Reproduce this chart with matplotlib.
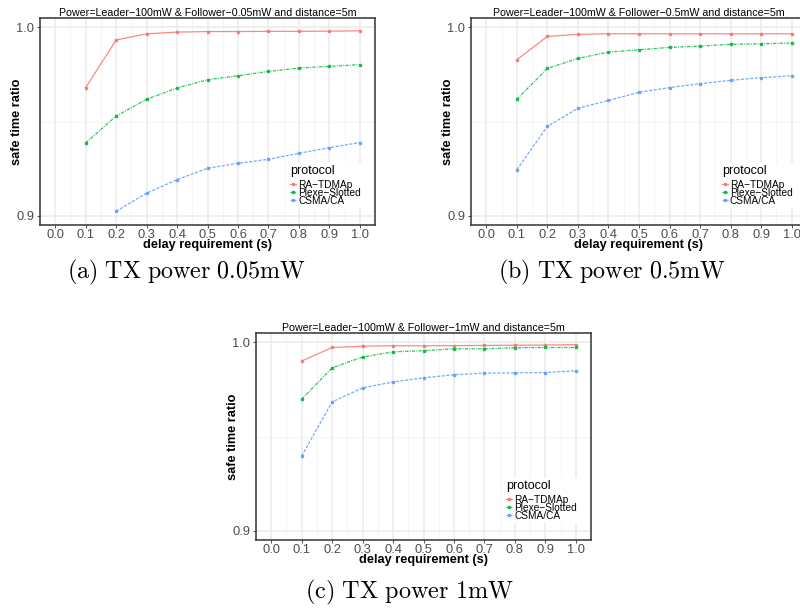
import matplotlib
matplotlib.use("Agg")
import matplotlib.pyplot as plt
import numpy as np

plt.rcParams['font.family'] = ['Liberation Sans', 'DejaVu Sans']
plt.rcParams['mathtext.fontset'] = 'cm'

delay = [0.1, 0.2, 0.3, 0.4, 0.5, 0.6, 0.7, 0.8, 0.9, 1.0]
xticks = [0.0, 0.1, 0.2, 0.3, 0.4, 0.5, 0.6, 0.7, 0.8, 0.9, 1.0]
xticklabels = ["0.0", "0.1", "0.2", "0.3", "0.4", "0.5", "0.6", "0.7", "0.8", "0.9", "1.0"]
protocols = ["RA\u2212TDMAp", "Plexe\u2212Slotted", "CSMA/CA"]

# panel (a) TX power 0.05mW
a_ra = [0.968, 0.9933, 0.9966, 0.9975, 0.9978, 0.9978, 0.9979, 0.9979, 0.9980, 0.9982]
a_plexe = [0.9386, 0.9529, 0.9618, 0.9678, 0.9722, 0.9743, 0.9766, 0.9784, 0.9793, 0.9802]
a_csma_x = [0.2, 0.3, 0.4, 0.5, 0.6, 0.7, 0.8, 0.9, 1.0]
a_csma = [0.9023, 0.9119, 0.9191, 0.9251, 0.9278, 0.9299, 0.9331, 0.9361, 0.9388]

# panel (b) TX power 0.5mW
b_ra = [0.9828, 0.9952, 0.9963, 0.9966, 0.9966, 0.9966, 0.9966, 0.9966, 0.9966, 0.9966]
b_plexe = [0.9618, 0.9782, 0.9835, 0.9869, 0.9881, 0.9894, 0.9901, 0.9910, 0.9913, 0.9917]
b_csma = [0.9244, 0.9474, 0.9570, 0.9612, 0.9655, 0.9680, 0.9701, 0.9719, 0.9733, 0.9743]

# panel (c) TX power 1mW
c_ra = [0.9901, 0.9973, 0.9980, 0.9982, 0.9982, 0.9983, 0.9984, 0.9985, 0.9986, 0.9988]
c_plexe = [0.9698, 0.9865, 0.9922, 0.9950, 0.9956, 0.9966, 0.9966, 0.9972, 0.9973, 0.9973]
c_csma = [0.9396, 0.9684, 0.9758, 0.9790, 0.9812, 0.9828, 0.9837, 0.9838, 0.9840, 0.9849]

titles = ["Power=Leader\u2212100mW & Follower\u22120.05mW and distance=5m",
          "Power=Leader\u2212100mW & Follower\u22120.5mW and distance=5m",
          "Power=Leader\u2212100mW & Follower\u22121mW and distance=5m"]
captions = [r"$\mathrm{(a)\ TX\ power\ 0.05mW}$",
            r"$\mathrm{(b)\ TX\ power\ 0.5mW}$",
            r"$\mathrm{(c)\ TX\ power\ 1mW}$"]

colors = ["#F8766D", "#00BA38", "#619CFF"]
styles = ["-", (0, (2.5, 1.0, 0.8, 1.0)), (0, (2.5, 1.2))]

W, H = 800, 608
fig = plt.figure(figsize=(8, 6.08), dpi=100)


def px_axes(left, top, right, bottom):
    return fig.add_axes([left / W, (H - bottom) / H, (right - left) / W, (bottom - top) / H])


def draw(ax, series, title):
    ax.set_xlim(-0.05, 1.05)
    ax.set_ylim(0.895, 1.005)
    ax.set_xticks(xticks)
    ax.set_xticklabels(xticklabels)
    ax.set_xticks(np.arange(0.05, 1.0, 0.1), minor=True)
    ax.set_yticks([0.9, 1.0])
    ax.set_yticklabels(["0.9", "1.0"])
    ax.set_yticks([0.95], minor=True)
    ax.grid(which='major', color='#EBEBEB', linewidth=1.1)
    ax.grid(which='minor', color='#F2F2F2', linewidth=0.6)
    ax.set_axisbelow(True)
    for s in ax.spines.values():
        s.set_color('#333333')
        s.set_linewidth(1.1)
    ax.tick_params(which='major', colors='#333333', length=2.5, width=0.6,
                   labelsize=9.3, labelcolor='#4D4D4D')
    ax.tick_params(axis='x', pad=0.2)
    ax.tick_params(axis='y', pad=1.5)
    ax.tick_params(which='minor', length=0)
    for (xs, ys), lab, col, ls in zip(series, protocols, colors, styles):
        ax.plot(xs, ys, linestyle=ls, color=col, linewidth=0.9, marker='s',
                markersize=1.8, alpha=0.85, label=lab)
    ax.set_title(title, fontsize=7.65, pad=1.5)
    ax.set_xlabel("delay requirement (s)", fontsize=9.2, fontweight='bold')
    ax.xaxis.label.set_va('center')
    ax.xaxis.set_label_coords(0.5, -0.097)
    ax.set_ylabel("safe time ratio", fontsize=9.2, fontweight='bold')
    ax.yaxis.label.set_va('center')
    ax.yaxis.set_label_coords(-0.068, 0.5)
    leg = ax.legend(loc='upper left', bbox_to_anchor=(0.74, 0.30), title='protocol',
                    fontsize=7.3, title_fontsize=9, frameon=True, facecolor='white',
                    edgecolor='none', framealpha=1, handlelength=0.6, handletextpad=0.2,
                    labelspacing=-0.2, borderpad=0.2, alignment='left', fancybox=False,
                    borderaxespad=0)
    leg._legend_box.sep = 2


ax_a = px_axes(40, 18, 375, 225)
draw(ax_a, [(delay, a_ra), (delay, a_plexe), (a_csma_x, a_csma)], titles[0])
ax_b = px_axes(471, 18, 807, 225)
draw(ax_b, [(delay, b_ra), (delay, b_plexe), (delay, b_csma)], titles[1])
ax_c = px_axes(256, 333, 591, 540)
draw(ax_c, [(delay, c_ra), (delay, c_plexe), (delay, c_csma)], titles[2])

fig.text(186 / W, 1 - 272 / H, captions[0], fontsize=17.3, ha='center', va='center')
fig.text(612 / W, 1 - 272 / H, captions[1], fontsize=17.3, ha='center', va='center')
fig.text(410 / W, 1 - 592 / H, captions[2], fontsize=17.5, ha='center', va='center')

fig.savefig("out.png", dpi=100)
